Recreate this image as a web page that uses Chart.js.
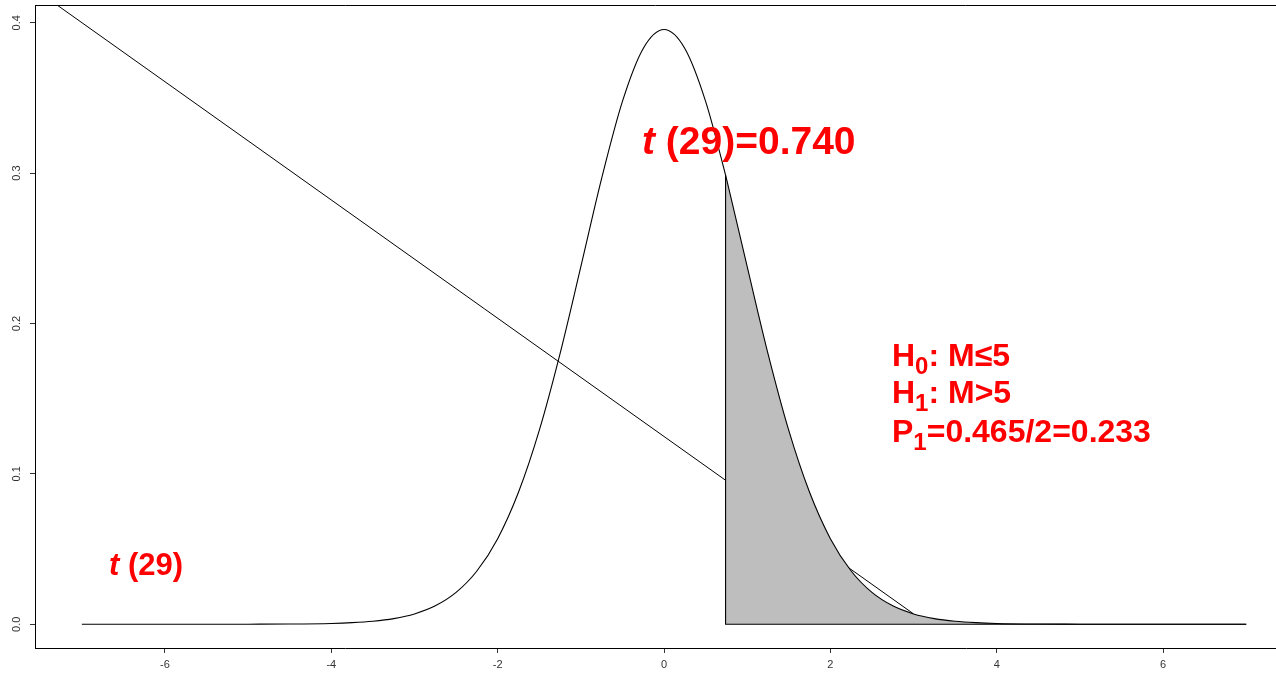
<!DOCTYPE html>
<html>
<head>
<meta charset="utf-8">
<script src="https://cdn.jsdelivr.net/npm/chart.js@4"></script>
<style>
  html, body { margin: 0; padding: 0; background: #fff; }
  canvas { display: block; }
</style>
</head>
<body>
<canvas id="t-chart" width="1276" height="677"></canvas>
<script>
/* ===================== DATA ===================== */

// t(29) density curve
const CURVE_X = [-7, -6.5, -6, -5.5, -5, -4.5, -4, -3.75, -3.5, -3.25, -3, -2.75, -2.5, -2.25,
  -2, -1.75, -1.5, -1.25, -1, -0.75, -0.5, -0.25, 0, 0.25, 0.5, 0.74, 0.75, 1, 1.25, 1.5,
  1.75, 2, 2.25, 2.5, 2.75, 3, 3.25, 3.5, 3.75, 4, 4.5, 5, 5.5, 6, 6.5, 7];
const CURVE_Y = [0, 0, 0, 0.00001, 0.00004, 0.00014, 0.00054, 0.00105, 0.002, 0.00375, 0.00686,
  0.01224, 0.02117, 0.03539, 0.05693, 0.08773, 0.1289, 0.18, 0.2378, 0.2965, 0.3477, 0.3829,
  0.3955, 0.3829, 0.3477, 0.2987, 0.2965, 0.2378, 0.18, 0.1289, 0.08773, 0.05693, 0.03539,
  0.02117, 0.01224, 0.00686, 0.00375, 0.002, 0.00105, 0.00054, 0.00014, 0.00004, 0.00001, 0, 0, 0];

// upper tail shaded from t = 0.740
const SHADE_X = [0.74, 0.75, 1, 1.25, 1.5, 1.75, 2, 2.25, 2.5, 2.75, 3, 3.25, 3.5, 3.75, 4,
  4.5, 5, 5.5, 6, 6.5, 7];
const SHADE_Y = [0.2987, 0.2965, 0.2378, 0.18, 0.1289, 0.08773, 0.05693, 0.03539, 0.02117,
  0.01224, 0.00686, 0.00375, 0.002, 0.00105, 0.00054, 0.00014, 0.00004, 0.00001, 0, 0, 0];

// outline of the shaded polygon (left edge + bottom)
const EDGE_X = [0.74, 0.74, 7];
const EDGE_Y = [0.2987, 0, 0];

// stray straight line
const LINE_X = [-7.56, 3];
const LINE_Y = [0.4221, 0.0069];

// axes
const X_TICKS = [-6, -4, -2, 0, 2, 4, 6];
const Y_TICKS = [0, 0.1, 0.2, 0.3, 0.4];
const X_RANGE = [-7.563, 7.358];
const Y_RANGE = [-0.0158, 0.4118];

/* ===================== STYLE ===================== */

const RED = "#ff0000";
const FONT = '"Liberation Sans", Arial, sans-serif';

const pts = (xs, ys) => xs.map((x, i) => ({ x, y: ys[i] }));

/* ===================== ANNOTATIONS ===================== */

// each part: text, italic, sub (subscript)
const LABELS = [
  { x: -0.265, y: 0.3127, size: 39, parts: [{ t: "t", italic: true }, { t: " (29)=0.740" }] },
  { x: -6.673, y: 0.0328, size: 31, parts: [{ t: "t", italic: true }, { t: " (29)" }] },
  { x: 2.741, y: 0.1720, size: 32, parts: [{ t: "H" }, { t: "0", sub: true }, { t: ": M\u22645" }] },
  { x: 2.741, y: 0.1468, size: 32, parts: [{ t: "H" }, { t: "1", sub: true }, { t: ": M>5" }] },
  { x: 2.741, y: 0.1215, size: 32, parts: [{ t: "P" }, { t: "1", sub: true }, { t: "=0.465/2=0.233" }] },
];

const annotationPlugin = {
  id: "annotations",
  afterDraw(chart) {
    const { ctx, chartArea, scales } = chart;
    ctx.save();

    // top frame line (R box)
    ctx.strokeStyle = "#000";
    ctx.lineWidth = 1;
    ctx.beginPath();
    ctx.moveTo(chartArea.left, Math.round(chartArea.top) + 0.5);
    ctx.lineTo(chartArea.right, Math.round(chartArea.top) + 0.5);
    ctx.stroke();

    ctx.fillStyle = RED;
    ctx.textBaseline = "alphabetic";
    ctx.textAlign = "left";
    LABELS.forEach((lab) => {
      let px = scales.x.getPixelForValue(lab.x);
      const py = scales.y.getPixelForValue(lab.y);
      lab.parts.forEach((p) => {
        const size = p.sub ? Math.round(lab.size * 0.75) : lab.size;
        ctx.font = `${p.italic ? "italic " : ""}bold ${size}px ${FONT}`;
        const dy = p.sub ? lab.size * 0.25 : 0;
        ctx.fillText(p.t, px, py + dy);
        px += ctx.measureText(p.t).width;
      });
    });
    ctx.restore();
  },
};

/* ===================== CHART ===================== */

new Chart(document.getElementById("t-chart"), {
  type: "line",
  data: {
    datasets: [
      {
        data: pts(CURVE_X, CURVE_Y),
        borderColor: "#000",
        borderWidth: 1.1,
        cubicInterpolationMode: "monotone",
        pointRadius: 0,
        fill: false,
        order: 0,
      },
      {
        data: pts(EDGE_X, EDGE_Y),
        borderColor: "#000",
        borderWidth: 1.1,
        tension: 0,
        pointRadius: 0,
        fill: false,
        order: 1,
      },
      {
        data: pts(SHADE_X, SHADE_Y),
        borderWidth: 0,
        borderColor: "rgba(0,0,0,0)",
        backgroundColor: "#bebebe",
        cubicInterpolationMode: "monotone",
        pointRadius: 0,
        fill: "origin",
        order: 2,
      },
      {
        data: pts(LINE_X, LINE_Y),
        borderColor: "#000",
        borderWidth: 1,
        tension: 0,
        pointRadius: 0,
        fill: false,
        order: 3,
      },
    ],
  },
  options: {
    responsive: false,
    animation: false,
    layout: { padding: { top: 5, right: 0, left: 0, bottom: 0 } },
    plugins: {
      legend: { display: false },
      tooltip: { enabled: false },
    },
    scales: {
      x: {
        type: "linear",
        min: X_RANGE[0],
        max: X_RANGE[1],
        afterBuildTicks: (s) => { s.ticks = X_TICKS.map((v) => ({ value: v })); },
        afterFit: (s) => {
          s.height = 29;
          s.paddingLeft = 0;
          s.paddingRight = 0;
        },
        grid: { drawOnChartArea: false, drawTicks: true, tickLength: 5, color: "#333" },
        border: { display: true, color: "#000", width: 1 },
        ticks: {
          padding: 5,
          color: "#333",
          font: { family: FONT, size: 11 },
          maxRotation: 0,
          autoSkip: false,
          callback: (v) => String(v),
        },
      },
      y: {
        type: "linear",
        min: Y_RANGE[0],
        max: Y_RANGE[1],
        afterBuildTicks: (s) => { s.ticks = Y_TICKS.map((v) => ({ value: v })); },
        afterFit: (s) => {
          s.width = 35;
          s.paddingTop = 0;
          s.paddingBottom = 0;
        },
        grid: { drawOnChartArea: false, drawTicks: true, tickLength: 5, color: "#333" },
        border: { display: true, color: "#000", width: 1 },
        ticks: {
          padding: 5,
          color: "#333",
          font: { family: FONT, size: 11 },
          minRotation: 90,
          maxRotation: 90,
          crossAlign: "center",
          autoSkip: false,
          callback: (v) => v.toFixed(1),
        },
      },
    },
  },
  plugins: [annotationPlugin],
});
</script>
</body>
</html>
